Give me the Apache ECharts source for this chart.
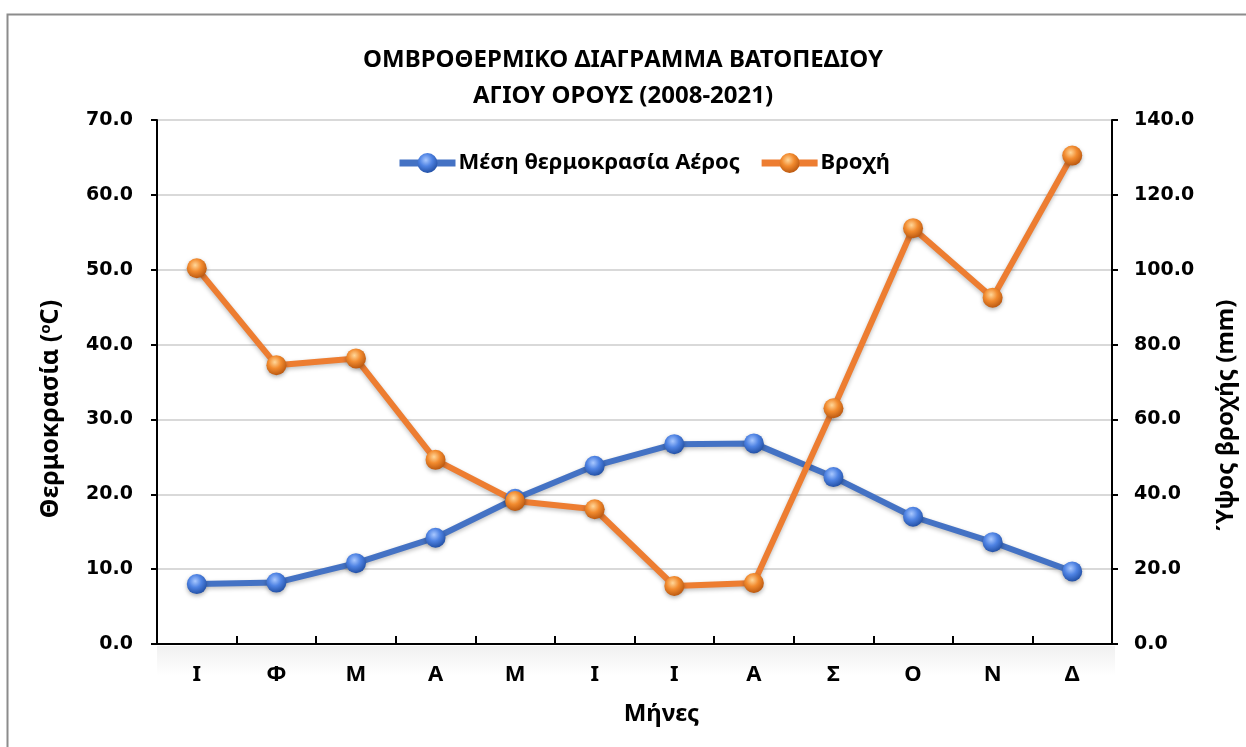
<!DOCTYPE html>
<html>
<head>
<meta charset="utf-8">
<script src="https://cdn.jsdelivr.net/npm/echarts@6/dist/echarts.min.js"></script>
<style>
html,body{margin:0;padding:0;background:#fff;}
#container{width:1246px;height:747px;}
</style>
</head>
<body>
<div id="container"></div>
<script>
// μήνες και τιμές
var months = ['Ι','Φ','Μ','Α','Μ','Ι','Ι','Α','Σ','Ο','Ν','Δ'];
var tempData = [8.0, 8.2, 10.8, 14.2, 19.4, 23.8, 26.7, 26.8, 22.3, 17.0, 13.6, 9.7];
var rainData = [100.4, 74.5, 76.3, 49.2, 38.2, 36.0, 15.5, 16.3, 63.0, 111.1, 92.5, 130.5];

var blue = '#4472C4', orange = '#ED7D31';

function ball(light, mid, dark){
    return {
        type: 'radial', x: 0.42, y: 0.35, r: 0.7,
        colorStops: [
            {offset: 0, color: light},
            {offset: 0.45, color: mid},
            {offset: 1, color: dark}
        ]
    };
}

var myChart = echarts.init(document.getElementById('container'));
var option = {
    backgroundColor: '#fff',
    animation: false,
    title: {
        text: 'ΟΜΒΡΟΘΕΡΜΙΚΟ ΔΙΑΓΡΑΜΜΑ ΒΑΤΟΠΕΔΙΟΥ\nΑΓΙΟΥ ΟΡΟΥΣ (2008-2021)',
        left: 'center',
        top: 37,
        textStyle: {fontFamily: 'Noto Sans', fontWeight: 'bold', fontSize: 24, lineHeight: 36, color: '#000'}
    },
    legend: {
        left: 391,
        top: 147,
        itemWidth: 56,
        itemHeight: 25,
        itemGap: 18,
        lineStyle: {width: 7},
        textStyle: {fontFamily: 'Noto Sans', fontWeight: 'bold', fontSize: 22, color: '#000', padding: [0, 0, 0, -2]},
        data: ['Μέση θερμοκρασία Αέρος', 'Βροχή']
    },
    grid: {left: 157, right: 133, top: 120, bottom: 103},
    graphic: [
        {type: 'rect', left: 5, top: 12, shape: {width: 1270, height: 780},
         style: {fill: 'none', stroke: '#8c8c8c', lineWidth: 2}, silent: true, z: 0},
        {type: 'rect', left: 157, top: 646, shape: {width: 958, height: 30},
         style: {fill: {type: 'linear', x: 0, y: 0, x2: 0, y2: 1, colorStops: [
             {offset: 0, color: 'rgba(0,0,0,0.06)'}, {offset: 1, color: 'rgba(0,0,0,0)'}]}},
         silent: true, z: 0}
    ],
    xAxis: {
        type: 'category',
        data: months,
        boundaryGap: true,
        name: 'Μήνες',
        nameLocation: 'middle',
        nameGap: 58,
        nameTextStyle: {fontFamily: 'Noto Sans', fontWeight: 'bold', fontSize: 24, color: '#000', padding: [0, 0, 0, 54]},
        axisLine: {lineStyle: {color: '#000', width: 2}},
        axisTick: {show: true, inside: true, length: 8, lineStyle: {color: '#000', width: 2}},
        axisLabel: {margin: 20, fontFamily: 'Noto Sans', fontWeight: 'bold', fontSize: 22, color: '#000'}
    },
    yAxis: [
        {
            type: 'value', min: 0, max: 70, interval: 10,
            name: 'Θερμοκρασία ({sup|ο}C)',
            nameLocation: 'middle',
            nameGap: 94,
            nameTextStyle: {fontFamily: 'Noto Sans', fontWeight: 'bold', fontSize: 25, color: '#000', padding: [0, 54, 0, 0],
                rich: {sup: {fontFamily: 'Noto Sans', fontWeight: 'bold', fontSize: 15, verticalAlign: 'top', padding: [0, 0, 9, 0]}}},
            axisLine: {show: true, lineStyle: {color: '#000', width: 2}},
            axisTick: {show: true, length: 6, lineStyle: {color: '#000', width: 2}},
            axisLabel: {margin: 24, fontFamily: 'DejaVu Sans', fontWeight: 'bold', fontSize: 19, color: '#000',
                formatter: function (v) { return v.toFixed(1); }},
            splitLine: {lineStyle: {color: '#d9d9d9', width: 2}}
        },
        {
            type: 'value', min: 0, max: 140, interval: 20,
            name: 'Ύψος βροχής (mm)',
            nameLocation: 'middle',
            nameGap: 102,
            nameTextStyle: {fontFamily: 'Noto Sans', fontWeight: 'bold', fontSize: 24, color: '#000', padding: [0, 66, 0, 0]},
            axisLine: {show: true, lineStyle: {color: '#000', width: 2}},
            axisTick: {show: true, length: 6, lineStyle: {color: '#000', width: 2}},
            axisLabel: {margin: 22, fontFamily: 'DejaVu Sans', fontWeight: 'bold', fontSize: 19, color: '#000',
                formatter: function (v) { return v.toFixed(1); }},
            splitLine: {show: false}
        }
    ],
    series: [
        {
            name: 'Μέση θερμοκρασία Αέρος',
            type: 'line',
            yAxisIndex: 0,
            data: tempData,
            symbol: 'circle',
            symbolSize: 20,
            lineStyle: {color: blue, width: 6, shadowColor: 'rgba(0,0,0,0.25)', shadowBlur: 4, shadowOffsetY: 2},
            itemStyle: {color: ball('#a9c8ff', '#4f83e3', '#1d4a9e'), borderWidth: 0,
                shadowColor: 'rgba(0,0,0,0.3)', shadowBlur: 4, shadowOffsetY: 2}
        },
        {
            name: 'Βροχή',
            type: 'line',
            yAxisIndex: 1,
            data: rainData,
            symbol: 'circle',
            symbolSize: 20,
            lineStyle: {color: orange, width: 6, shadowColor: 'rgba(0,0,0,0.25)', shadowBlur: 4, shadowOffsetY: 2},
            itemStyle: {color: ball('#ffd79a', '#f28b2f', '#b4520c'), borderWidth: 0,
                shadowColor: 'rgba(0,0,0,0.3)', shadowBlur: 4, shadowOffsetY: 2}
        }
    ]
};
myChart.setOption(option);
</script>
</body>
</html>
